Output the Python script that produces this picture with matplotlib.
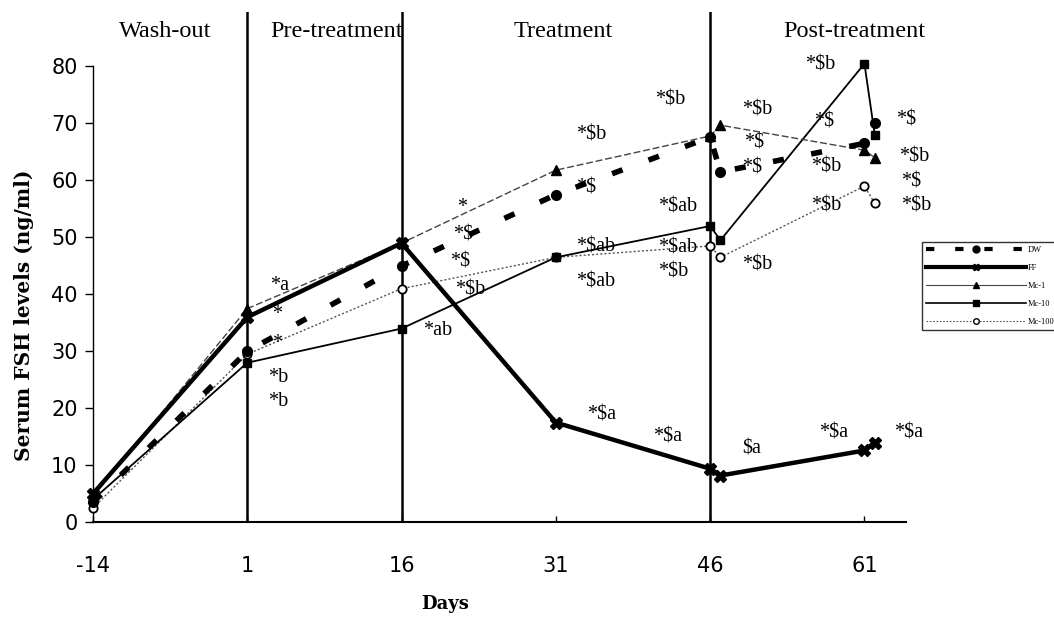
import matplotlib
matplotlib.use("Agg")
import matplotlib.pyplot as plt
from matplotlib.lines import Line2D

# days, incl. the post-treatment points drawn just to the right of day 46 / 61
days = [-14, 1, 16, 31, 46, 47, 61, 62]
tick_days = [-14, 1, 16, 31, 46, 61]
period_days = [1, 16, 46]

dw = [3.5, 30, 45, 57.5, 67.6, 61.5, 66.5, 70]
ff = [5, 36, 49, 17.5, 9.4, 8.2, 12.6, 14]
mc1 = [4.5, 37.5, 49, 61.8, 67.8, 69.7, 65.3, 64]
mc10 = [4, 28, 34, 46.5, 52, 49.5, 80.5, 68]
mc100 = [2.5, 29.5, 41, 46.5, 48.5, 46.5, 59, 56]

periods = ["Wash-out", "Pre-treatment", "Treatment", "Post-treatment"]
period_x = [-7.0, 9.7, 31.7, 60.0]

# significance marks (text, day, value)
notes = [
    ("*a", 3.2, 41.6), ("*", 3.4, 36.4), ("*", 3.4, 31.4), ("*b", 3.0, 25.4), ("*b", 3.0, 21.2),
    ("*ab", 18.1, 33.7), ("*", 21.4, 55.3), ("*$", 21.0, 50.4), ("*$", 20.7, 45.6), ("*$b", 21.2, 40.7),
    ("*$b", 33.0, 67.9), ("*$", 33.0, 58.6), ("*$ab", 33.0, 48.3), ("*$ab", 33.0, 42.1),
    ("*$b", 40.6, 74.1), ("*$ab", 40.9, 55.3), ("*$ab", 40.9, 48.1), ("*$b", 40.9, 43.9),
    ("*$b", 49.1, 45.1), ("*$b", 55.2, 80.3), ("*$b", 49.1, 72.3), ("*$", 49.3, 66.5), ("*$", 49.1, 62.2),
    ("*$", 56.1, 70.3), ("*$b", 55.8, 62.3), ("*$b", 55.8, 55.6),
    ("*$", 64.1, 70.6), ("*$b", 64.4, 64.1), ("*$", 64.6, 59.7), ("*$b", 64.6, 55.6),
    ("*$a", 34.0, 18.8), ("*$a", 40.4, 14.9), ("$a", 49.1, 12.9), ("*$a", 56.6, 15.6), ("*$a", 63.9, 15.6),
]

fig = plt.figure(figsize=(10.54, 6.21), dpi=100)
ax = fig.add_axes([0.0882, 0.159, 0.771, 0.822])
ax.set_xlim(-14, 65)
ax.set_ylim(0, 89.6)

for d in period_days:
    ax.axvline(d, color="black", lw=1.8, zorder=1)

ax.plot(days, mc100, color="#555555", lw=1, ls=(0, (1.5, 1.5)), marker="o", ms=6,
        mfc="white", mec="black", mew=1.3, clip_on=False, zorder=3, label="Mc-100")
ax.plot(days, mc10, color="black", lw=1.3, marker="s", ms=6, clip_on=False, zorder=3, label="Mc-10")
ax.plot(days, mc1, color="#444444", lw=1, ls=(0, (5, 2)), marker="^", ms=7, mfc="black", mec="black",
        clip_on=False, zorder=3, label="Mc-1")
ax.plot(days, ff, color="black", lw=3.2, marker="X", ms=8, clip_on=False, zorder=4, label="FF")
ax.plot(days, dw, color="black", lw=4, ls=(0, (2, 5)), marker="o", ms=7, clip_on=False, zorder=4, label="DW")

for txt, x, y in notes:
    ax.text(x, y, txt, fontsize=14.5, family="Liberation Serif", ha="left", va="center", zorder=5)

for lab, x in zip(periods, period_x):
    ax.text(x, 86.1, lab, fontsize=17.5, family="Liberation Serif", ha="center", va="center")

ax.spines["top"].set_visible(False)
ax.spines["right"].set_visible(False)
ax.spines["left"].set_linestyle((0, (1, 1)))
ax.spines["left"].set_linewidth(1)
ax.spines["left"].set_bounds(0, 80)
ax.spines["bottom"].set_linewidth(1.5)

ax.set_yticks(range(0, 81, 10))
ax.set_xticks(tick_days)
ax.set_xticklabels([str(d) for d in tick_days])
ax.tick_params(axis="y", direction="out", length=6, width=1, pad=5, labelsize=15)
ax.tick_params(axis="x", direction="in", length=4, width=1, pad=24, labelsize=15)
for t in ax.get_xticklabels() + ax.get_yticklabels():
    t.set_family("DejaVu Sans")

ax.set_xlabel("Days", fontsize=13, family="DejaVu Serif", fontweight="bold")
ax.xaxis.set_label_coords(0.433, -0.143)
ax.set_ylabel("Serum FSH levels (ng/ml)", fontsize=14.5, family="DejaVu Serif", fontweight="bold")
ax.yaxis.set_label_coords(-0.072, 0.406)

# small legend box at the right edge, partly cut by the page
handles = [
    Line2D([], [], color="black", lw=3, ls=(0, (2, 5)), marker="o", ms=5),
    Line2D([], [], color="black", lw=3, marker="X", ms=5),
    Line2D([], [], color="#444444", lw=0.8, marker="^", ms=4, mfc="black", mec="black"),
    Line2D([], [], color="black", lw=1.2, marker="s", ms=4),
    Line2D([], [], color="#555555", lw=0.8, ls=(0, (1.5, 1.5)), marker="o", ms=4, mfc="white", mec="black"),
]
leg = fig.legend(handles, ["DW", "FF", "Mc-1", "Mc-10", "Mc-100"], loc="upper left",
                 bbox_to_anchor=(0.871, 0.617), handlelength=12, frameon=True,
                 fancybox=False, edgecolor="black", borderpad=0.5, labelspacing=1.2,
                 handletextpad=0.2, prop={"family": "Liberation Serif", "size": 6})
leg.get_frame().set_linewidth(1)

fig.savefig("out.png", dpi=100)
